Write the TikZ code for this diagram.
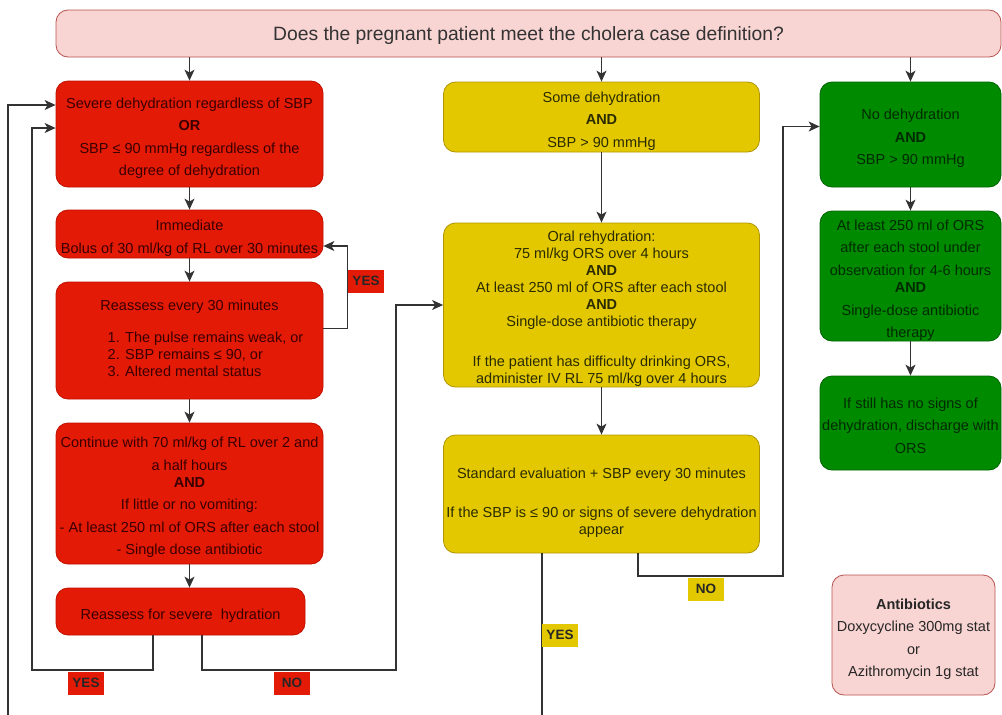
\documentclass[tikz,border=0pt]{standalone}
\usepackage{fontspec}
\setmainfont{Liberation Sans}
\usetikzlibrary{arrows.meta,calc}
\definecolor{redfill}{HTML}{E31A05}
\definecolor{redline}{HTML}{C01000}
\definecolor{redtext}{HTML}{3A0000}
\definecolor{ylwfill}{HTML}{E3C800}
\definecolor{ylwline}{HTML}{B09500}
\definecolor{ylwtext}{HTML}{2B2B00}
\definecolor{grnfill}{HTML}{008A00}
\definecolor{grnline}{HTML}{006400}
\definecolor{grntext}{HTML}{002A00}
\definecolor{pinkfill}{HTML}{F8D4D2}
\definecolor{pinkline}{HTML}{B85450}
\newcommand{\lift}[1][15.5pt]{\rule{0pt}{#1}}
\tikzset{
  box/.style={rounded corners=12pt, align=center, inner sep=0pt, line width=0.8pt,
    font=\fontsize{14.5}{22.5}\selectfont, text depth=0pt},
  dense/.style={font=\fontsize{14.5}{17}\selectfont},
  size/.style 2 args={minimum width=#1pt, minimum height=#2pt},
  redbox/.style={box, fill=redfill, draw=redline, text=redtext},
  ylwbox/.style={box, fill=ylwfill, draw=ylwline, text=ylwtext},
  grnbox/.style={box, fill=grnfill, draw=grnline, text=grntext},
  pinkbox/.style={box, fill=pinkfill, draw=pinkline, text=black!85},
  tag/.style={inner sep=0pt, minimum width=36pt, minimum height=23pt,
    font=\fontsize{13.5}{16}\selectfont\bfseries, text=black!85},
  flow/.style={draw=black!80, line width=1.2pt, -{Stealth[length=11pt,width=10pt,inset=3pt]}}
}
\begin{document}
\begin{tikzpicture}[x=1pt,y=-1pt]
\useasboundingbox (0,0) rectangle (1002,715);
\node[pinkbox, size={945}{47}, font=\fontsize{19.3}{23}\selectfont, text=black!80] (q) at (528.5,33.5)
  {Does the pregnant patient meet the cholera case definition?};

\node[redbox, size={267}{106}] (sev) at (189.5,134)
  {\lift Severe dehydration regardless of SBP\\\textbf{OR}\\SBP ≤ 90 mmHg regardless of the\\degree of dehydration};
\node[redbox, size={267}{48}] (imm) at (189.5,234)
  {\lift Immediate\\Bolus of 30 ml/kg of RL over 30 minutes};
\node[redbox, dense, size={267}{117}, text depth={}] (reas) at (189.5,340.5)
  {Reassess every 30 minutes\\[15pt]\hspace*{32pt}\begin{tabular}[t]{@{}l@{}}1. The pulse remains weak, or\\2. SBP remains ≤ 90, or\\3. Altered mental status\end{tabular}};
\node[redbox, size={267}{141}] (cont) at (189.5,493.5)
  {\lift Continue with 70 ml/kg of RL over 2 and\\a half hours\\[-5.5pt]\textbf{AND}\\If little or no vomiting:\\- At least 250 ml of ORS after each stool\\- Single dose antibiotic};
\node[redbox, size={249}{47}] (rsh) at (180.5,611.5)
  {\lift Reassess for severe\ \ hydration};

\node[ylwbox, size={316}{70}] (some) at (601.5,117)
  {\lift Some dehydration\\\textbf{AND}\\SBP > 90 mmHg};
\node[ylwbox, dense, size={316}{164}] (oral) at (601.5,305)
  {\lift Oral rehydration:\\75 ml/kg ORS over 4 hours\\\textbf{AND}\\At least 250 ml of ORS after each stool\\\textbf{AND}\\Single-dose antibiotic therapy\\[23pt]If the patient has difficulty drinking ORS,\\administer IV RL 75 ml/kg over 4 hours};
\node[ylwbox, dense, size={316}{118}] (std) at (601.5,494)
  {\lift[25pt]Standard evaluation + SBP every 30 minutes\\[22pt]If the SBP is ≤ 90 or signs of severe dehydration\\appear};

\node[grnbox, size={181}{105}] (nodeh) at (910.5,134.5)
  {\lift No dehydration\\\textbf{AND}\\SBP > 90 mmHg};
\node[grnbox, size={181}{130}] (obs) at (910.5,276)
  {\lift At least 250 ml of ORS\\after each stool under\\observation for 4-6 hours\\[-5pt]\textbf{AND}\\Single-dose antibiotic\\therapy};
\node[grnbox, size={181}{94}] (dis) at (910.5,423)
  {\lift If still has no signs of\\dehydration, discharge with\\ORS};

\node[pinkbox, size={163}{120}] (abx) at (913.5,635)
  {\lift\textbf{Antibiotics}\\Doxycycline 300mg stat\\or\\Azithromycin 1g stat};

\draw[flow] (q.south -| sev.north) -- (sev.north);
\draw[flow] (q.south -| some.north) -- (some.north);
\draw[flow] (q.south -| nodeh.north) -- (nodeh.north);
\draw[flow] (sev) -- (imm);
\draw[flow] (imm) -- (reas);
\draw[flow] (reas) -- (cont);
\draw[flow] (cont.south) -- (cont.south |- rsh.north);
\draw[flow] (some) -- (oral);
\draw[flow] (oral) -- (std);
\draw[flow] (nodeh) -- (obs);
\draw[flow] (obs) -- (dis);

\draw[flow] ($(reas.east)+(0,-12)$) -- ++(24,0) |- ($(imm.east)+(0,12)$);
\draw[flow] ($(rsh.south)+(-27.5,0)$) |- (32,670) |- ($(sev.west)+(0,-6)$);
\draw[flow] ($(rsh.south)+(21.5,0)$) |- (396,670) |- (oral.west);
\draw[flow] ($(std.south)+(36.5,0)$) |- (783,576) |- ($(nodeh.west)+(0,-8)$);
\draw[flow] ($(std.south)+(-59.5,0)$) |- (8,740) |- ($(sev.west)+(0,-29)$);

\node[tag, fill=redfill] (yesa) at (366,281) {YES};
\node[tag, fill=redfill] (yesb) at (86,683) {YES};
\node[tag, fill=redfill] (noa) at (292,683) {NO};
\node[tag, fill=ylwfill] (nob) at (706,589) {NO};
\node[tag, fill=ylwfill] (yesc) at (560,635) {YES};
\end{tikzpicture}
\end{document}
